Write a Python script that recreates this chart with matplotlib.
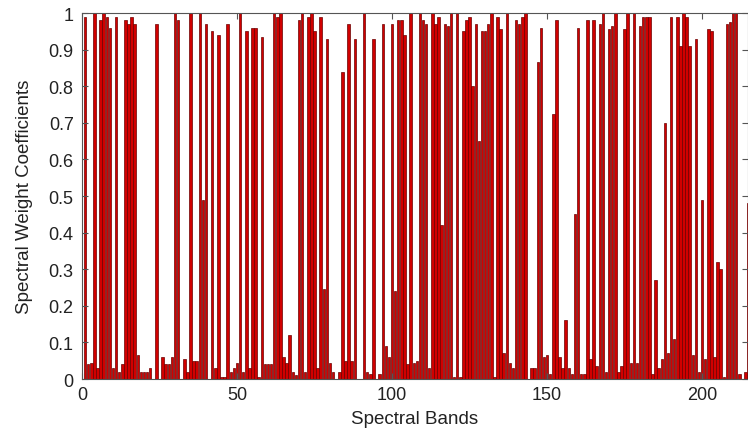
import numpy as np
import matplotlib
matplotlib.use('Agg')
import matplotlib.pyplot as plt

plt.rcParams['font.family'] = ['Liberation Sans', 'DejaVu Sans']

# spectral weight for each band (bands 1..215)
weights_1_50 = [0.99, 0.04, 0.045, 1.0, 0.03, 0.98, 1.0, 0.99, 0.96, 0.03,
                0.99, 0.02, 0.04, 0.98, 0.97, 0.99, 0.97, 0.065, 0.02, 0.02,
                0.02, 0.03, 0.0, 0.97, 0.0, 0.06, 0.04, 0.04, 0.06, 1.0,
                0.98, 0.0, 0.055, 0.02, 1.0, 0.05, 0.05, 1.0, 0.49, 0.97,
                0.0, 0.95, 0.03, 0.94, 0.005, 0.005, 0.97, 0.02, 0.03, 0.045]
weights_51_100 = [1.0, 0.02, 0.95, 0.03, 0.96, 0.96, 0.005, 0.935, 0.04, 0.04,
                  0.04, 1.0, 0.99, 1.0, 0.06, 0.045, 0.12, 0.02, 0.01, 0.98,
                  1.0, 0.02, 0.99, 1.0, 0.95, 0.03, 0.99, 0.245, 0.93, 0.045,
                  0.02, 0.0, 0.02, 0.84, 0.05, 0.97, 0.05, 0.93, 0.0, 0.0,
                  1.0, 0.02, 0.015, 0.93, 0.0, 0.015, 0.97, 0.09, 0.06, 0.97]
weights_101_150 = [0.24, 0.98, 0.98, 0.94, 0.04, 1.0, 0.045, 0.05, 1.0, 0.98,
                   0.97, 0.03, 1.0, 0.97, 0.99, 0.42, 0.97, 0.965, 1.0, 0.005,
                   1.0, 0.005, 0.95, 0.98, 0.99, 0.8, 0.97, 0.65, 0.95, 0.95,
                   0.97, 1.0, 0.005, 0.99, 0.955, 0.07, 1.0, 0.045, 0.03, 0.98,
                   0.97, 0.99, 1.0, 0.0, 0.03, 0.03, 0.865, 0.96, 0.06, 0.065]
weights_151_200 = [0.015, 0.725, 0.98, 0.06, 0.03, 0.16, 0.03, 0.015, 0.45, 0.96,
                   0.015, 0.015, 0.98, 0.055, 0.98, 0.035, 0.97, 1.0, 0.02, 0.955,
                   0.965, 1.0, 0.02, 0.035, 0.955, 1.0, 0.045, 1.0, 0.045, 0.965,
                   0.99, 0.99, 0.99, 0.015, 0.27, 0.03, 0.055, 0.7, 0.07, 0.99,
                   0.11, 0.99, 0.91, 1.0, 0.99, 0.91, 0.065, 0.93, 0.02, 0.49]
weights_201_215 = [0.055, 0.955, 0.95, 0.06, 0.32, 0.3, 0.005, 0.97, 0.975, 1.0,
                   1.0, 0.015, 0.0, 0.02, 0.48]

weights = np.array(weights_1_50 + weights_51_100 + weights_101_150
                   + weights_151_200 + weights_201_215)
bands = np.arange(1, len(weights) + 1)

fig = plt.figure(figsize=(7.48, 4.31), dpi=100)
ax = fig.add_axes([0.1096, 0.1183, 0.8904, 0.8492])

ax.bar(bands, weights, width=0.8, color='#d10000', edgecolor='#6a0000', linewidth=0.5)

ax.set_xlim(0, 214.8)
ax.set_ylim(0, 1)
ax.set_xticks([0, 50, 100, 150, 200])
ax.set_yticks(np.arange(0, 1.01, 0.1))
ax.set_yticklabels(['0', '0.1', '0.2', '0.3', '0.4', '0.5', '0.6', '0.7', '0.8', '0.9', '1'])
ax.tick_params(direction='in', top=True, right=True, labelsize=13, length=4,
               color='#555555', labelcolor='#222222')
ax.tick_params(axis='x', pad=5)
ax.tick_params(axis='y', pad=6)
for s in ax.spines.values():
    s.set_color('#555555')
    s.set_linewidth(0.8)

ax.set_xlabel('Spectral Bands', fontsize=13.5, color='#222222', labelpad=5)
ax.set_ylabel('Spectral Weight Coefficients', fontsize=13.5, color='#222222', labelpad=11)

fig.savefig('out.png', dpi=100)
